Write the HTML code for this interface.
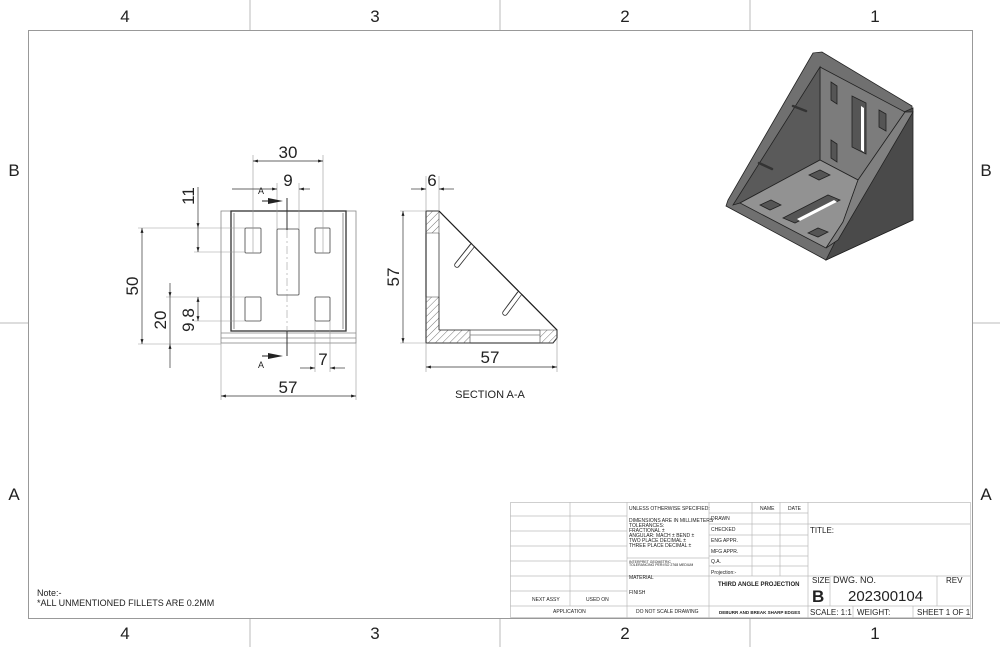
<!DOCTYPE html>
<html><head><meta charset="utf-8"><style>
html,body{margin:0;padding:0;background:#fff}
svg{display:block}
text{font-family:"Liberation Sans",sans-serif;fill:#222}
</style></head><body>
<svg width="1000" height="647" viewBox="0 0 1000 647" xmlns="http://www.w3.org/2000/svg">
<defs>
<marker id="ar" viewBox="0 0 10 10" refX="10" refY="5" markerWidth="7" markerHeight="7" orient="auto-start-reverse"><path d="M0,2 L10,5 L0,8z" fill="#222"/></marker>
<pattern id="hat" width="5" height="5" patternUnits="userSpaceOnUse" patternTransform="rotate(45)"><line x1="0" y1="0" x2="0" y2="5" stroke="#555" stroke-width="0.8"/></pattern>
</defs>
<rect x="28.5" y="30.5" width="944" height="588" fill="none" stroke="#999" stroke-width="1"/>
<g stroke="#bbb" stroke-width="1">
<line x1="250" y1="0" x2="250" y2="30"/><line x1="500" y1="0" x2="500" y2="30"/><line x1="750" y1="0" x2="750" y2="30"/>
<line x1="250" y1="619" x2="250" y2="647"/><line x1="500" y1="619" x2="500" y2="647"/><line x1="750" y1="619" x2="750" y2="647"/>
<line x1="0" y1="323" x2="28" y2="323"/><line x1="973" y1="323" x2="1000" y2="323"/>
</g>
<g font-size="17" text-anchor="middle">
<text x="125" y="22">4</text><text x="375" y="22">3</text><text x="625" y="22">2</text><text x="875" y="22">1</text>
<text x="125" y="639">4</text><text x="375" y="639">3</text><text x="625" y="639">2</text><text x="875" y="639">1</text>
<text x="14" y="176">B</text><text x="986" y="176">B</text><text x="14" y="500">A</text><text x="986" y="500">A</text>
</g>

<!-- front view -->
<g fill="none" stroke="#444" stroke-width="0.8">
<rect x="221" y="211" width="135" height="132" stroke="#888"/>
<rect x="231" y="211" width="115" height="120" stroke="#333" stroke-width="1.3"/>
<line x1="221" y1="333" x2="356" y2="333" stroke="#888"/><line x1="221" y1="338" x2="356" y2="338" stroke="#888"/>
<line x1="234" y1="213" x2="234" y2="329" stroke="#777"/><line x1="343" y1="213" x2="343" y2="329" stroke="#777"/>
<rect x="245" y="228" width="16" height="25" rx="1"/>
<rect x="315" y="228" width="15" height="25" rx="1"/>
<rect x="277" y="229" width="22" height="66" rx="1"/>
<rect x="245" y="297" width="16" height="24" rx="1"/>
<rect x="315" y="297" width="15" height="24" rx="1"/>
</g>
<g stroke="#999" stroke-width="0.6" fill="none">
<line x1="253" y1="155" x2="253" y2="253"/><line x1="323" y1="155" x2="323" y2="253"/>
<line x1="277" y1="183" x2="277" y2="229"/><line x1="299" y1="183" x2="299" y2="229"/>
<line x1="315" y1="321" x2="315" y2="372"/><line x1="330" y1="321" x2="330" y2="372"/>
<line x1="221" y1="343" x2="221" y2="400"/><line x1="356" y1="343" x2="356" y2="400"/>
<line x1="138" y1="228" x2="245" y2="228"/><line x1="194" y1="252" x2="245" y2="252"/>
<line x1="166" y1="297" x2="245" y2="297"/><line x1="194" y1="321" x2="245" y2="321"/>
<line x1="138" y1="344" x2="221" y2="344"/>
</g>
<g stroke="#333" stroke-width="0.7" fill="none">
<line x1="253" y1="161" x2="323" y2="161" marker-start="url(#ar)" marker-end="url(#ar)"/>
<line x1="232" y1="189" x2="277" y2="189" marker-end="url(#ar)"/><line x1="310" y1="189" x2="299" y2="189" marker-end="url(#ar)"/>
<line x1="300" y1="368" x2="315" y2="368" marker-end="url(#ar)"/><line x1="345" y1="368" x2="330" y2="368" marker-end="url(#ar)"/>
<line x1="221" y1="396" x2="356" y2="396" marker-start="url(#ar)" marker-end="url(#ar)"/>
<line x1="142" y1="228" x2="142" y2="344" marker-start="url(#ar)" marker-end="url(#ar)"/>
<line x1="170" y1="283" x2="170" y2="297" marker-end="url(#ar)"/><line x1="170" y1="368" x2="170" y2="344" marker-end="url(#ar)"/>
<line x1="170" y1="297" x2="170" y2="344"/>
<line x1="198" y1="187" x2="198" y2="228" marker-end="url(#ar)"/><line x1="198" y1="228" x2="198" y2="252" marker-end="url(#ar)"/>
<line x1="198" y1="297" x2="198" y2="321" marker-start="url(#ar)" marker-end="url(#ar)"/>
<line x1="287" y1="198" x2="287" y2="230" stroke-width="1"/><line x1="287" y1="331" x2="287" y2="356" stroke-width="1"/>
<line x1="287" y1="230" x2="287" y2="331" stroke="#888" stroke-dasharray="8,3,2,3" stroke-width="0.5"/>
</g>
<polygon points="268,198 283,201 268,204" fill="#222"/><line x1="262" y1="201" x2="270" y2="201" stroke="#222"/>
<polygon points="268,353 283,356 268,359" fill="#222"/><line x1="262" y1="356" x2="270" y2="356" stroke="#222"/>
<g font-size="17" text-anchor="middle">
<text x="288" y="158">30</text><text x="288" y="186">9</text><text x="323" y="365">7</text><text x="288" y="393">57</text>
<text transform="translate(194,196) rotate(-90)">11</text>
<text transform="translate(138,286) rotate(-90)">50</text>
<text transform="translate(166,320) rotate(-90)">20</text>
<text transform="translate(194,320) rotate(-90)">9.8</text>
</g>
<g font-size="9"><text x="258" y="194">A</text><text x="258" y="368">A</text></g>

<!-- section view -->
<polygon points="426,211 439,211 557,330 557,338 553,343 426,343" fill="#fff" stroke="#222" stroke-width="1.1"/>
<polygon points="426,211 439,211 439,233 426,233" fill="url(#hat)" stroke="#444" stroke-width="0.6"/>
<polygon points="426,297 439,297 439,330 470,330 470,343 426,343" fill="url(#hat)" stroke="#444" stroke-width="0.6"/>
<polygon points="540,330 557,330 557,338 553,343 540,343" fill="url(#hat)" stroke="#444" stroke-width="0.6"/>
<g stroke="#333" stroke-width="0.8" fill="none">
<line x1="439" y1="233" x2="439" y2="330"/><line x1="439" y1="330" x2="540" y2="330"/>
<line x1="470" y1="335" x2="540" y2="335" stroke="#777"/>
</g>
<g stroke-linecap="round">
<line x1="472" y1="246" x2="457" y2="265" stroke="#333" stroke-width="5.5"/>
<line x1="473" y1="245" x2="457" y2="265" stroke="#fff" stroke-width="3.8"/>
<line x1="519" y1="294" x2="505" y2="313" stroke="#333" stroke-width="5.5"/>
<line x1="520" y1="293" x2="505" y2="313" stroke="#fff" stroke-width="3.8"/>
</g>
<line x1="439" y1="211" x2="557" y2="330" stroke="#222" stroke-width="1.1"/>
<g stroke="#999" stroke-width="0.6"><line x1="426" y1="176" x2="426" y2="211"/><line x1="439" y1="176" x2="439" y2="211"/>
<line x1="400" y1="211" x2="426" y2="211"/><line x1="400" y1="343" x2="426" y2="343"/>
<line x1="426" y1="343" x2="426" y2="372"/><line x1="557" y1="338" x2="557" y2="372"/></g>
<g stroke="#333" stroke-width="0.7">
<line x1="411" y1="189" x2="426" y2="189" marker-end="url(#ar)"/><line x1="454" y1="189" x2="439" y2="189" marker-end="url(#ar)"/>
<line x1="403" y1="211" x2="403" y2="343" marker-start="url(#ar)" marker-end="url(#ar)"/>
<line x1="426" y1="367" x2="557" y2="367" marker-start="url(#ar)" marker-end="url(#ar)"/>
</g>
<g font-size="17" text-anchor="middle"><text x="432" y="186">6</text><text x="490" y="363">57</text>
<text transform="translate(399,277) rotate(-90)">57</text></g>
<text x="490" y="398" font-size="11" text-anchor="middle">SECTION A-A</text>

<!-- iso view -->
<g stroke="#222" stroke-width="0.8">
<polygon points="813,53 822,52 912,106 913,220 826,260 726,206 728,200" fill="#707070"/>
<polygon points="904,112 913,108 913,220 826,260 836,240" fill="#4a4a4a"/>
<polygon points="820,67 905,112 858,180 820,160" fill="#7c7c7c"/>
<polygon points="820,67 820,160 740,203 733,205" fill="#5a5a5a"/>
<polygon points="820,160 858,180 843,222 826,248 740,203" fill="#929292"/>
<polygon points="905,112 913,112 838,240 826,248 843,222 858,180" fill="#808080"/>
<polygon points="831,82 837,86 837,104 831,100" fill="#555"/>
<polygon points="852,96 866,103 866,154 852,147" fill="#555"/>
<polygon points="879,110 886,114 886,131 879,127" fill="#555"/>
<polygon points="831,140 837,144 837,162 831,158" fill="#555"/>
<polygon points="809,175 820,170 830,175 819,180" fill="#555"/>
<polygon points="760,205 771,200 781,205 770,210" fill="#555"/>
<polygon points="783,218 828,195 840,200 795,223" fill="#555"/>
<polygon points="808,233 818,228 828,232 818,237" fill="#555"/>
</g>
<polygon points="861,106 864,108 864,152 861,150" fill="#fff"/>
<polygon points="797,219 834,200 837,202 800,221" fill="#fff"/>
<g stroke="#333" stroke-width="2.5" stroke-linecap="round"><line x1="793" y1="106" x2="806" y2="111"/><line x1="759" y1="163" x2="772" y2="169"/></g>

<!-- title block -->
<g stroke="#bbb" stroke-width="0.7" fill="none">
<rect x="510.5" y="502.5" width="460" height="115"/>
<line x1="570" y1="502" x2="570" y2="606"/><line x1="627" y1="502" x2="627" y2="618"/>
<line x1="709" y1="502" x2="709" y2="618"/><line x1="752" y1="502" x2="752" y2="576"/>
<line x1="780" y1="502" x2="780" y2="576"/><line x1="808" y1="502" x2="808" y2="618"/>
<line x1="510" y1="516" x2="627" y2="516"/><line x1="510" y1="531" x2="627" y2="531"/>
<line x1="510" y1="546" x2="627" y2="546"/><line x1="510" y1="561" x2="627" y2="561"/>
<line x1="510" y1="576" x2="709" y2="576"/><line x1="510" y1="591" x2="627" y2="591"/>
<line x1="510" y1="606" x2="970" y2="606"/><line x1="627" y1="558" x2="709" y2="558"/>
<line x1="709" y1="513" x2="808" y2="513"/><line x1="709" y1="524" x2="808" y2="524"/>
<line x1="709" y1="535" x2="808" y2="535"/><line x1="709" y1="546" x2="808" y2="546"/>
<line x1="709" y1="556" x2="808" y2="556"/><line x1="709" y1="566" x2="808" y2="566"/>
<line x1="808" y1="524" x2="970" y2="524"/><line x1="709" y1="576" x2="970" y2="576"/>
<line x1="830" y1="576" x2="830" y2="606"/><line x1="937" y1="576" x2="937" y2="606"/>
<line x1="853" y1="606" x2="853" y2="618"/><line x1="913" y1="606" x2="913" y2="618"/>
</g>
<g font-size="5" fill="#444">
<text x="629" y="510">UNLESS OTHERWISE SPECIFIED:</text>
<text x="629" y="522">DIMENSIONS ARE IN MILLIMETERS</text>
<text x="629" y="527">TOLERANCES:</text><text x="629" y="532">FRACTIONAL ±</text>
<text x="629" y="537">ANGULAR: MACH ±    BEND ±</text><text x="629" y="542">TWO PLACE DECIMAL   ±</text>
<text x="629" y="547">THREE PLACE DECIMAL  ±</text>
<text x="629" y="563" font-size="3.5">INTERPRET GEOMETRIC</text><text x="629" y="566" font-size="3.5">TOLERANCING PER:ISO 2768 MEDIUM</text>
<text x="629" y="579">MATERIAL</text><text x="629" y="594">FINISH</text>
<text x="532" y="601">NEXT ASSY</text><text x="586" y="601">USED ON</text>
<text x="553" y="613">APPLICATION</text><text x="636" y="613">DO NOT SCALE DRAWING</text>
<text x="760" y="510">NAME</text><text x="788" y="510">DATE</text>
<text x="711" y="520">DRAWN</text><text x="711" y="531">CHECKED</text><text x="711" y="542">ENG APPR.</text>
<text x="711" y="553">MFG APPR.</text><text x="711" y="563">Q.A.</text><text x="711" y="574">Projection:-</text>
<text x="718" y="586" font-weight="bold" font-size="6">THIRD ANGLE PROJECTION</text>
<text x="719" y="614" font-weight="bold" font-size="4.5">DEBURR AND BREAK SHARP EDGES</text>
</g>
<g fill="#333">
<text x="810" y="533" font-size="8">TITLE:</text>
<text x="812" y="583" font-size="8">SIZE</text><text x="833" y="583" font-size="9">DWG.  NO.</text><text x="946" y="583" font-size="8">REV</text>
<text x="812" y="602" font-size="17" font-weight="bold">B</text>
<text x="848" y="601" font-size="15">202300104</text>
<text x="810" y="615" font-size="8">SCALE: 1:1</text><text x="857" y="615" font-size="8">WEIGHT:</text><text x="917" y="615" font-size="8">SHEET 1 OF 1</text>
</g>
<text x="37" y="596" font-size="9">Note:-</text>
<text x="37" y="606" font-size="9">*ALL UNMENTIONED FILLETS ARE 0.2MM</text>
</svg>
</body></html>
